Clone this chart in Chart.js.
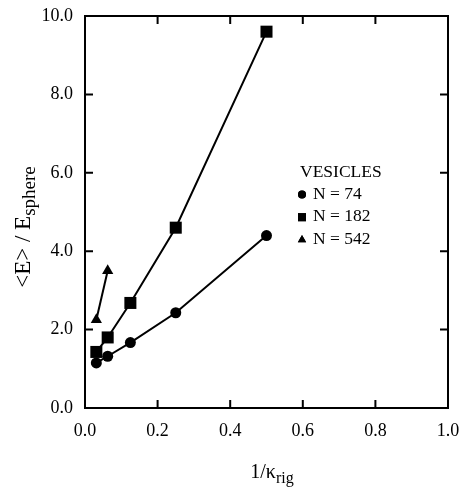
<!DOCTYPE html>
<html lang="en">
    <head>
        <meta charset="UTF-8">
        <title>Vesicle energy vs 1/kappa</title>
        <script src="https://cdn.jsdelivr.net/npm/chart.js"></script>
        <style>
            body,
            html {
                margin: 0;
                background: white;
            }
            .wrap {
                width: 464px;
                height: 487px;
            }
        </style>
    </head>
    <body>
        <div class="wrap">
            <canvas id="myChart" width="464" height="487"></canvas>
        </div>

        <script>
            // 1/kappa_rig values
            const kappaInv = [0.03125, 0.0625, 0.125, 0.25, 0.5];
            const kappaInv542 = [0.03125, 0.0625];
            // <E>/E_sphere for each vesicle size
            const n74 = [1.15, 1.32, 1.67, 2.43, 4.4];
            const n182 = [1.43, 1.8, 2.68, 4.6, 9.6];
            const n542 = [2.25, 3.5];
            const seriesLabels = ['N = 74', 'N = 182', 'N = 542'];
            const xTicks = [0, 0.2, 0.4, 0.6, 0.8, 1.0];
            const yTicks = [0, 2, 4, 6, 8, 10];

            const serif = "'Liberation Serif', 'DejaVu Serif', serif";

            function toPoints(xs, ys) {
                return xs.map((x, i) => ({x: x, y: ys[i]}));
            }

            function makeSet(label, xs, ys, style, r) {
                return {
                    label: label,
                    data: toPoints(xs, ys),
                    showLine: true,
                    borderColor: 'black',
                    borderWidth: 2,
                    backgroundColor: 'black',
                    pointStyle: style,
                    pointRadius: r,
                    pointBorderWidth: 0
                };
            }

            function noPad(s) {
                s.paddingLeft = 0;
                s.paddingRight = 0;
                s.paddingTop = 0;
                s.paddingBottom = 0;
            }

            // box round the plot, inward ticks, axis titles, legend
            const framePlugin = {
                id: 'frame',
                afterDraw(chart) {
                    const ctx = chart.ctx;
                    const a = chart.chartArea;
                    const xs = chart.scales.x;
                    const ys = chart.scales.y;
                    ctx.save();
                    ctx.strokeStyle = 'black';
                    ctx.lineWidth = 2;
                    ctx.strokeRect(a.left, a.top, a.right - a.left, a.bottom - a.top);
                    const t = 8;
                    ctx.beginPath();
                    xTicks.forEach(v => {
                        const px = xs.getPixelForValue(v);
                        ctx.moveTo(px, a.bottom);
                        ctx.lineTo(px, a.bottom - t);
                        ctx.moveTo(px, a.top);
                        ctx.lineTo(px, a.top + t);
                    });
                    yTicks.forEach(v => {
                        const py = ys.getPixelForValue(v);
                        ctx.moveTo(a.left, py);
                        ctx.lineTo(a.left + t, py);
                        ctx.moveTo(a.right, py);
                        ctx.lineTo(a.right - t, py);
                    });
                    ctx.stroke();

                    ctx.fillStyle = 'black';
                    ctx.textBaseline = 'alphabetic';
                    ctx.textAlign = 'left';

                    // x title: 1/κ_rig
                    ctx.font = '20px ' + serif;
                    const main = '1/κ';
                    const sub = 'rig';
                    const wMain = ctx.measureText(main).width;
                    ctx.font = '16px ' + serif;
                    const wSub = ctx.measureText(sub).width;
                    const x0 = 272 - (wMain + wSub) / 2;
                    ctx.font = '20px ' + serif;
                    ctx.fillText(main, x0, 478);
                    ctx.font = '16px ' + serif;
                    ctx.fillText(sub, x0 + wMain, 483);

                    // y title: <E> / E_sphere
                    ctx.save();
                    ctx.translate(30, 227);
                    ctx.rotate(-Math.PI / 2);
                    ctx.font = '23px ' + serif;
                    const ym = '<E> / E';
                    const ymW = ctx.measureText(ym).width;
                    ctx.font = '19px ' + serif;
                    const ysub = 'sphere';
                    const ysW = ctx.measureText(ysub).width;
                    const y0 = -(ymW + ysW) / 2;
                    ctx.font = '23px ' + serif;
                    ctx.fillText(ym, y0, 0);
                    ctx.font = '19px ' + serif;
                    ctx.fillText(ysub, y0 + ymW, 5);
                    ctx.restore();

                    // legend
                    ctx.font = '17.5px ' + serif;
                    ctx.fillText('VESICLES', 300, 177);
                    const styles = ['circle', 'rect', 'triangle'];
                    const radii = [4, 5.7, 4.8];
                    seriesLabels.forEach((lab, i) => {
                        const cy = 194.5 + i * 22.7;
                        Chart.helpers.drawPoint(ctx, {pointStyle: styles[i], radius: radii[i], borderWidth: 0}, 302, cy);
                        ctx.fill();
                        ctx.fillText(lab, 313, cy + 4);
                    });
                    ctx.restore();
                }
            };

            const ctx = document.getElementById('myChart').getContext('2d');
            window.myChart = new Chart(ctx, {
                type: 'scatter',
                data: {
                    datasets: [
                        makeSet(seriesLabels[0], kappaInv, n74, 'circle', 5.5),
                        makeSet(seriesLabels[1], kappaInv, n182, 'rect', 8.5),
                        makeSet(seriesLabels[2], kappaInv542, n542, 'triangle', 6.5)
                    ]
                },
                options: {
                    responsive: false,
                    animation: false,
                    devicePixelRatio: 1,
                    layout: {
                        padding: {left: 0, right: 16, top: 16, bottom: 0}
                    },
                    plugins: {
                        legend: {display: false},
                        tooltip: {enabled: false}
                    },
                    scales: {
                        x: {
                            type: 'linear',
                            min: 0,
                            max: 1,
                            afterBuildTicks: s => { s.ticks = xTicks.map(v => ({value: v})); },
                            afterFit: s => { s.height = 79; noPad(s); },
                            grid: {display: false, drawTicks: false},
                            border: {display: false},
                            ticks: {
                                color: 'black',
                                padding: 12,
                                font: {family: serif, size: 18},
                                callback: v => v.toFixed(1)
                            }
                        },
                        y: {
                            type: 'linear',
                            min: 0,
                            max: 10,
                            afterBuildTicks: s => { s.ticks = yTicks.map(v => ({value: v})); },
                            afterFit: s => { s.width = 85; noPad(s); },
                            grid: {display: false, drawTicks: false},
                            border: {display: false},
                            ticks: {
                                color: 'black',
                                padding: 12,
                                font: {family: serif, size: 18},
                                callback: v => v.toFixed(1)
                            }
                        }
                    }
                },
                plugins: [framePlugin]
            });
        </script>
    </body>
</html>
